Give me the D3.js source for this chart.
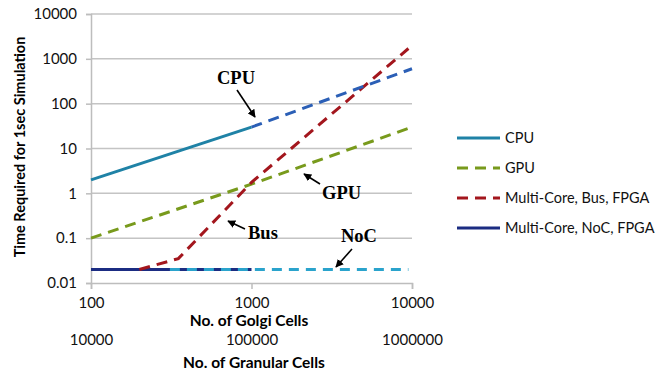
<!DOCTYPE html>
<html>
<head>
<meta charset="utf-8">
<script src="https://cdn.jsdelivr.net/npm/d3@7"></script>
<style>
  body { margin: 0; background: #fff; }
  svg { font-family: Lato, "Open Sans", sans-serif; }
</style>
</head>
<body>
<svg id="chart" width="672" height="370"></svg>
<script>
//=========================== data ============================================

var golgiTicks    = [100, 1000, 10000];
var granularTicks = ["10000", "100000", "1000000"];
var timeTicks     = [0.01, 0.1, 1, 10, 100, 1000, 10000];

var cpuMeasured   = [[100, 2], [1000, 30]];
var cpuProjected  = [[1000, 30], [10000, 600]];
var gpuSeries     = [[100, 0.1], [1000, 1.6], [10000, 30]];
var busSeries     = [[200, 0.02], [350, 0.035], [1000, 1.75], [9500, 1700]];
var nocMeasured   = [[100, 0.02], [1000, 0.02]];
var nocProjected  = [[310, 0.02], [9500, 0.02]];

var legendNames   = ["CPU", "GPU", "Multi-Core, Bus, FPGA", "Multi-Core, NoC, FPGA"];

//=========================== chart ===========================================

var svg = d3.select("#chart");

var x = d3.scaleLog().domain([100, 10000]).range([91, 412]);
var y = d3.scaleLog().domain([0.01, 10000]).range([283, 14]);

// grid
svg.append("g")
    .selectAll("line")
    .data(timeTicks.slice(1))
    .join("line")
    .attr("x1", 91).attr("x2", 412)
    .attr("y1", d => y(d)).attr("y2", d => y(d))
    .style("stroke", "#c4c4c4")
    .style("stroke-width", 1.5);

// y axis
var yAxis = svg.append("g")
    .attr("transform", "translate(91,0)")
    .call(d3.axisLeft(y).tickValues(timeTicks).tickFormat(d3.format("")).tickSize(5).tickPadding(9));
yAxis.selectAll("path, line").style("stroke", "#bdbdbd").style("stroke-width", 1.5);
yAxis.selectAll("text").style("font-size", "15px").style("font-family", "Lato").style("fill", "#111");

// x axis (golgi)
var xAxis = svg.append("g")
    .attr("transform", "translate(0,283)")
    .call(d3.axisBottom(x).tickValues(golgiTicks).tickFormat(d3.format("")).tickSize(6).tickPadding(8));
xAxis.selectAll("path, line").style("stroke", "#bdbdbd").style("stroke-width", 1.5);
xAxis.selectAll("text").style("font-size", "15px").style("font-family", "Lato").style("fill", "#111");

// second x axis (granular)
var xAxis2 = svg.append("g")
    .attr("transform", "translate(0,326)")
    .call(d3.axisBottom(x).tickValues(golgiTicks).tickFormat((d, i) => granularTicks[i]).tickSize(0).tickPadding(8));
xAxis2.select(".domain").remove();
xAxis2.selectAll("text").style("font-size", "15px").style("font-family", "Lato").style("fill", "#111");

// axis titles
svg.append("text")
    .attr("x", 249).attr("y", 326)
    .attr("text-anchor", "middle")
    .style("font-weight", "bold").style("font-size", "15.5px")
    .text("No. of Golgi Cells");
svg.append("text")
    .attr("x", 254).attr("y", 368)
    .attr("text-anchor", "middle")
    .style("font-weight", "bold").style("font-size", "15.5px")
    .text("No. of Granular Cells");
svg.append("text")
    .attr("transform", "translate(25,147) rotate(-90)")
    .attr("text-anchor", "middle")
    .style("font-weight", "bold").style("font-size", "14.5px")
    .text("Time Required for 1sec Simulation");

// series
var line = d3.line().x(d => x(d[0])).y(d => y(d[1]));

function drawSeries(data, color, dash) {
    svg.append("path")
        .datum(data)
        .attr("d", line)
        .style("fill", "none")
        .style("stroke", color)
        .style("stroke-width", 3)
        .style("stroke-dasharray", dash);
}

drawSeries(nocMeasured,  "#1b2c82", null);
drawSeries(nocProjected, "#2aa3cc", "10,7");
drawSeries(gpuSeries,    "#789a1c", "11,7");
drawSeries(busSeries,    "#a3161d", "11,7");
drawSeries(cpuMeasured,  "#1f82a6", null);
drawSeries(cpuProjected, "#2b5fb6", "11,7");

// annotations
svg.append("defs").append("marker")
    .attr("id", "arrow")
    .attr("viewBox", "0 0 10 10")
    .attr("refX", 9).attr("refY", 5)
    .attr("markerWidth", 5).attr("markerHeight", 5)
    .attr("orient", "auto")
    .append("path")
    .attr("d", "M0,0 L10,5 L0,10 z")
    .style("fill", "#000");

var notes = [
    {text: "CPU", tx: 236, ty: 84, anchor: "middle", a: [237, 90, 255, 117]},
    {text: "GPU", tx: 322, ty: 199, anchor: "start", a: [320, 184, 304, 174]},
    {text: "Bus", tx: 248, ty: 239, anchor: "start", a: [245, 229, 228, 221]},
    {text: "NoC", tx: 341, ty: 242, anchor: "start", a: [352, 249, 336, 267]}
];

notes.forEach(function(n) {
    svg.append("text")
        .attr("x", n.tx).attr("y", n.ty)
        .attr("text-anchor", n.anchor)
        .style("font-family", "'Liberation Serif', serif")
        .style("font-weight", "bold")
        .style("font-size", "18.5px")
        .text(n.text);
    svg.append("line")
        .attr("x1", n.a[0]).attr("y1", n.a[1])
        .attr("x2", n.a[2]).attr("y2", n.a[3])
        .style("stroke", "#000")
        .style("stroke-width", 1.6)
        .attr("marker-end", "url(#arrow)");
});

// legend
var legendStyles = [
    {color: "#1f82a6", dash: null},
    {color: "#789a1c", dash: "11,7"},
    {color: "#a3161d", dash: "11,7"},
    {color: "#1b2c82", dash: null}
];

var legend = svg.append("g")
    .selectAll("g")
    .data(legendNames)
    .join("g")
    .attr("transform", (d, i) => "translate(457," + (138 + i * 30) + ")");

legend.append("line")
    .attr("x1", 0).attr("x2", 43)
    .style("stroke", (d, i) => legendStyles[i].color)
    .style("stroke-width", 3)
    .style("stroke-dasharray", (d, i) => legendStyles[i].dash);

legend.append("text")
    .attr("x", 48).attr("dy", "0.35em")
    .style("font-size", "14.5px")
    .style("fill", "#111")
    .text(d => d);
</script>
</body>
</html>
